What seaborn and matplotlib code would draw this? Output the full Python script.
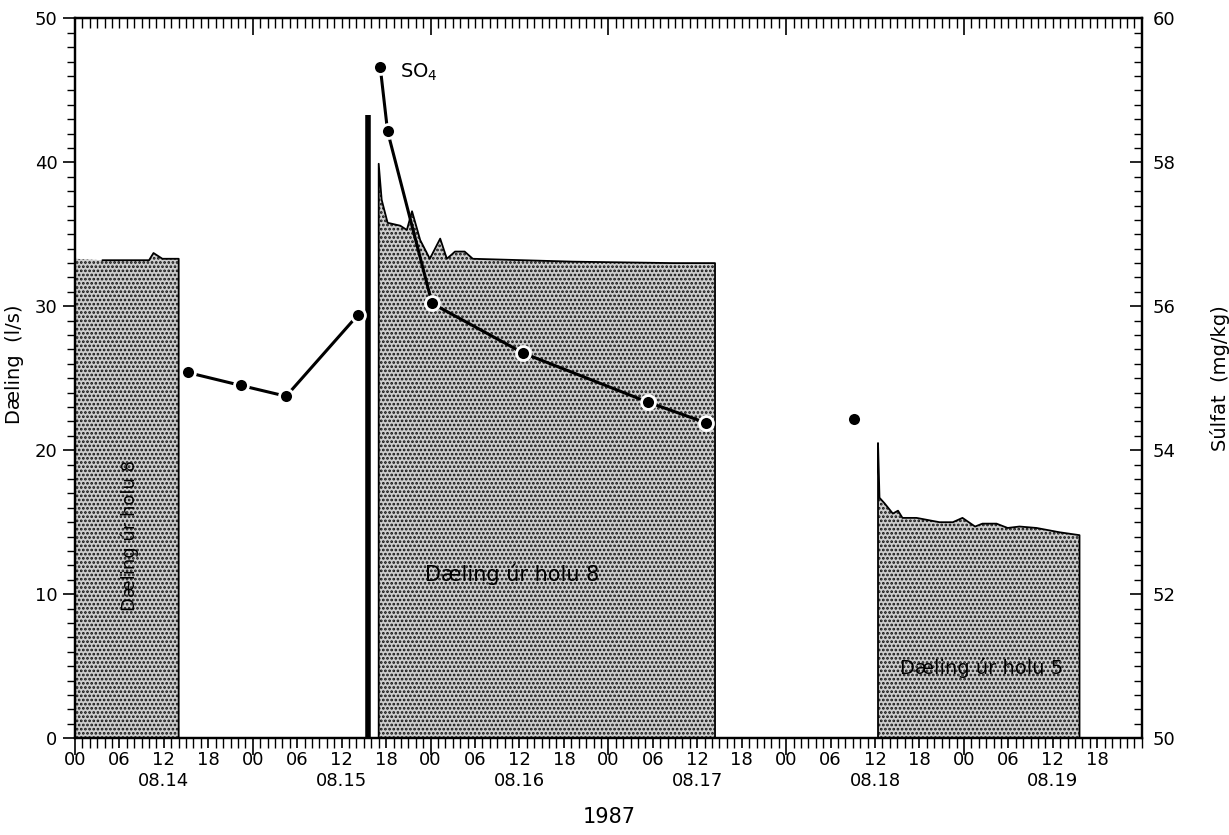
import matplotlib
matplotlib.use('Agg')
import matplotlib.pyplot as plt
import matplotlib.transforms as mtransforms
import numpy as np
import pandas as pd
import seaborn as sns

# hours are counted from 1987-08-14 00:00
# pumping (flow, l/s) blocks
block1_hours = [0.0, 3.7, 10.0, 10.6, 11.8, 14.0]
block1_flow = [33.3, 33.2, 33.2, 33.7, 33.3, 33.3]

block2_hours = [41.0, 41.4, 42.2, 43.9, 44.8, 45.5, 46.6, 47.9, 49.3, 50.2,
                51.3, 52.6, 53.7, 67.2, 80.7, 86.4]
block2_flow = [39.9, 37.4, 35.8, 35.6, 35.3, 36.6, 34.6, 33.3, 34.7, 33.3,
               33.8, 33.8, 33.3, 33.1, 33.0, 33.0]

block3_hours = [108.4, 108.6, 109.3, 110.4, 111.1, 111.7, 113.6, 116.7, 118.5,
                119.8, 121.5, 122.5, 124.4, 125.9, 127.5, 129.8, 132.9, 135.6]
block3_flow = [20.5, 16.7, 16.3, 15.6, 15.8, 15.3, 15.3, 15.0, 15.0,
               15.3, 14.7, 14.9, 14.9, 14.6, 14.7, 14.6, 14.3, 14.1]

# short pumping spike
spike_hour = [39.5]
spike_flow = [43.3]

# sulphate (mg/kg)
so4_a_hours = [15.2, 22.4, 28.5, 38.2]
so4_a_vals = [55.08, 54.90, 54.75, 55.88]
so4_b_hours = [41.2, 42.2, 48.2, 60.5, 77.3, 85.2]
so4_b_vals = [59.33, 58.43, 56.04, 55.35, 54.67, 54.38]
so4_c_hours = [105.1]
so4_c_vals = [54.44]

hour_labels = ['00', '06', '12', '18']
day_labels = ['08.14', '08.15', '08.16', '08.17', '08.18', '08.19']

sns.set_style('ticks')
plt.rcParams['font.family'] = ['DejaVu Sans']
plt.rcParams['hatch.linewidth'] = 1.3
for key in ('text.color', 'axes.labelcolor', 'xtick.color', 'ytick.color'):
    plt.rcParams[key] = 'black'

fig = plt.figure(figsize=(12.29, 8.35), dpi=100)
ax = fig.add_axes([0.061, 0.116, 0.868, 0.862])

# stippled fills
blocks = [(block1_hours, block1_flow), (block2_hours, block2_flow), (block3_hours, block3_flow)]
for hrs, vals in blocks:
    ax.fill_between(hrs, vals, 0, facecolor='#cdcdcd', edgecolor='#111111',
                    hatch='....', linewidth=0, zorder=1)

# outlines of the flow blocks
rows = []
for i, (hrs, vals) in enumerate(blocks):
    h = list(hrs) + [hrs[-1]]
    v = list(vals) + [0]
    if i == 0:
        h, v = h[1:], v[1:]
    else:
        h, v = [hrs[0]] + h, [0] + v
    for a, b in zip(h, v):
        rows.append({'block': i, 'hour': a, 'flow': b})
flow_df = pd.DataFrame(rows)
sns.lineplot(data=flow_df, x='hour', y='flow', units='block', estimator=None,
             sort=False, color='black', linewidth=1.3, ax=ax, zorder=3)

ax.vlines(spike_hour, 0, spike_flow, color='black', linewidth=4, zorder=3)

ax.set_xlim(0, 144)
ax.set_ylim(0, 50)
ax.set_xticks(np.arange(0, 139, 6))
ax.set_xticklabels([hour_labels[i % 4] for i in range(len(np.arange(0, 139, 6)))])
ax.set_xticks(np.arange(0, 145, 1), minor=True)
ax.set_yticks(np.arange(0, 51, 10))
ax.set_yticks(np.arange(0, 51, 1), minor=True)
ax.tick_params(axis='x', which='major', direction='out', length=7, width=1.2,
               labelsize=13, pad=2)
ax.tick_params(axis='x', which='minor', direction='out', length=7, width=1.0)
ax.tick_params(axis='y', which='major', direction='out', length=9, width=1.2,
               labelsize=13)
ax.tick_params(axis='y', which='minor', direction='out', length=6, width=1.0)
ax.set_xlabel('')
ax.set_ylabel('Dæling  (l/s)', fontsize=14)
ax.yaxis.set_label_coords(-0.048, 0.52)

# longer ticks at day boundaries
for tick in ax.xaxis.get_major_ticks():
    if tick.get_loc() % 24 == 0:
        tick.tick1line.set_markersize(12)

# ticks along the top edge point inward
top = ax.secondary_xaxis('top')
top.set_xticks(np.arange(0, 145, 24))
top.set_xticks(np.arange(0, 145, 1), minor=True)
top.tick_params(axis='x', which='major', direction='in', length=12, width=1.2, labeltop=False)
top.tick_params(axis='x', which='minor', direction='in', length=7, width=1.0)

# date labels under noon of each day
trans = mtransforms.blended_transform_factory(ax.transData, ax.transAxes)
for d, lbl in enumerate(day_labels):
    ax.text(d * 24 + 12, -0.06, lbl, transform=trans, ha='center', va='center', fontsize=13)

fig.text(0.496, 0.022, '1987', ha='center', va='center', fontsize=15)

# sulphate on right axis
ax2 = ax.twinx()
so4_df = pd.DataFrame({
    'hour': so4_a_hours + so4_b_hours,
    'so4': so4_a_vals + so4_b_vals,
    'grp': ['a'] * len(so4_a_hours) + ['b'] * len(so4_b_hours),
})
sns.lineplot(data=so4_df, x='hour', y='so4', units='grp', estimator=None,
             color='black', linewidth=2.2, ax=ax2, zorder=4)
sns.scatterplot(x=so4_a_hours + so4_b_hours + so4_c_hours,
                y=so4_a_vals + so4_b_vals + so4_c_vals,
                color='black', s=100, edgecolor='white', linewidth=2.0, ax=ax2, zorder=5)
ax2.set_ylim(50, 60)
ax2.set_yticks(np.arange(50, 61, 2))
ax2.set_yticks(np.arange(50, 60.01, 0.2), minor=True)
ax2.tick_params(axis='y', which='major', direction='in', length=9, width=1.2,
                labelsize=13, pad=8)
ax2.tick_params(axis='y', which='minor', direction='in', length=6, width=1.0)
ax2.set_ylabel('Súlfat  (mg/kg)', fontsize=14)
ax2.yaxis.set_label_coords(1.064, 0.50)
ax2.set_xlabel('')

ax2.text(43.9, 59.25, 'SO$_4$', ha='left', va='center', fontsize=14)

# labels in the blocks
ax.text(7.4, 14.1, 'Dæling úr holu 8', rotation=90, ha='center', va='center', fontsize=13, zorder=6)
ax.text(59.0, 11.4, 'Dæling úr holu 8', ha='center', va='center', fontsize=15, zorder=6)
ax.text(122.4, 4.9, 'Dæling úr holu 5', ha='center', va='center', fontsize=14, zorder=6)

for a in (ax, ax2):
    for s in a.spines.values():
        s.set_linewidth(1.6)
        s.set_color('black')

fig.savefig('out.png', dpi=100)
